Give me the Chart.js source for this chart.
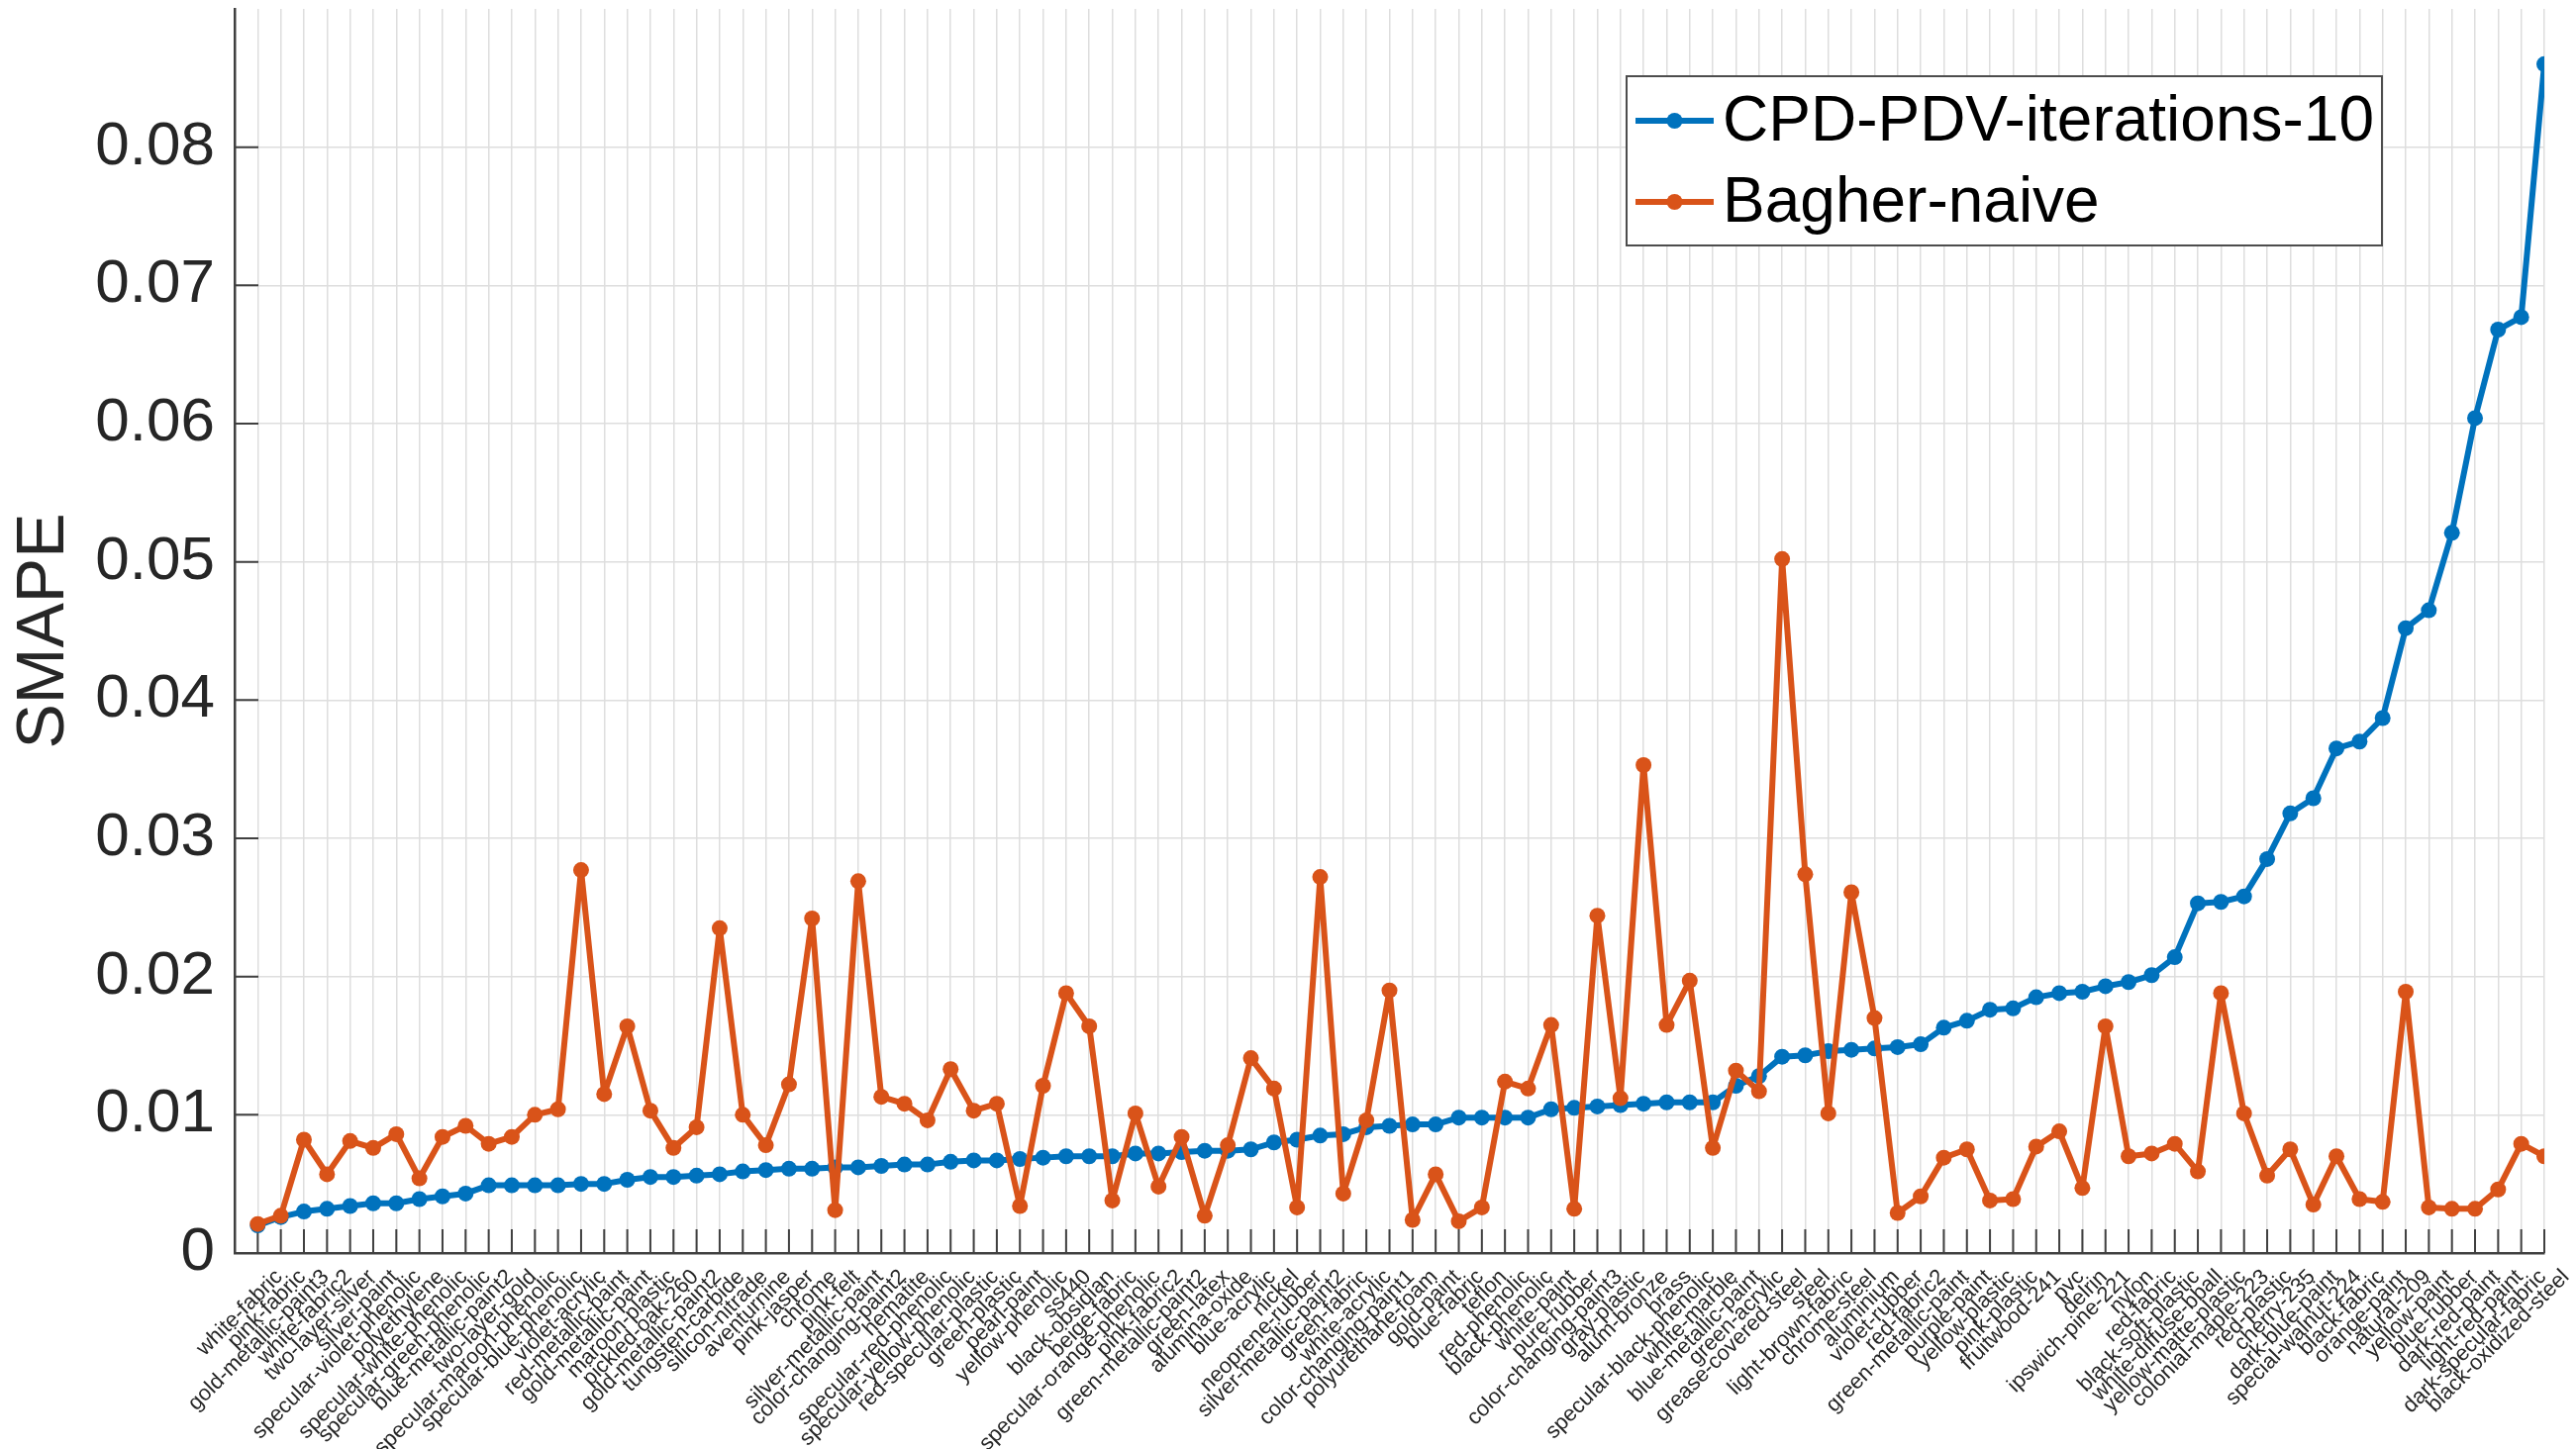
<!DOCTYPE html>
<html lang="en">
<head>
  <meta charset="UTF-8">
  <title>SMAPE per material</title>
  <style>
    html, body { margin: 0; padding: 0; background: #fff; }
    canvas { display: block; }
  </style>
</head>
<body>
  <canvas id="myChart" width="2602" height="1464"></canvas>

  <script src="https://cdn.jsdelivr.net/npm/chart.js@4.4.1/dist/chart.umd.min.js"></script>
  <script>
    const materials = [
      'white-fabric', 'pink-fabric', 'gold-metallic-paint3', 'white-fabric2', 'two-layer-silver',
      'silver-paint', 'specular-violet-phenolic', 'polyethylene', 'specular-white-phenolic', 'specular-green-phenolic',
      'blue-metallic-paint2', 'two-layer-gold', 'specular-maroon-phenolic', 'specular-blue-phenolic', 'violet-acrylic',
      'red-metallic-paint', 'gold-metallic-paint', 'maroon-plastic', 'pickled-oak-260', 'gold-metallic-paint2',
      'tungsten-carbide', 'silicon-nitrade', 'aventurnine', 'pink-jasper', 'chrome',
      'pink-felt', 'silver-metallic-paint', 'color-changing-paint2', 'hematite', 'specular-red-phenolic',
      'specular-yellow-phenolic', 'red-specular-plastic', 'green-plastic', 'pearl-paint', 'yellow-phenolic',
      'ss440', 'black-obsidian', 'beige-fabric', 'specular-orange-phenolic', 'pink-fabric2',
      'green-metallic-paint2', 'green-latex', 'alumina-oxide', 'blue-acrylic', 'nickel',
      'neoprene-rubber', 'silver-metallic-paint2', 'green-fabric', 'white-acrylic', 'color-changing-paint1',
      'polyurethane-foam', 'gold-paint', 'blue-fabric', 'teflon', 'red-phenolic',
      'black-phenolic', 'white-paint', 'pure-rubber', 'color-changing-paint3', 'gray-plastic',
      'alum-bronze', 'brass', 'specular-black-phenolic', 'white-marble', 'blue-metallic-paint',
      'green-acrylic', 'grease-covered-steel', 'steel', 'light-brown-fabric', 'chrome-steel',
      'aluminium', 'violet-rubber', 'red-fabric2', 'green-metallic-paint', 'purple-paint',
      'yellow-plastic', 'pink-plastic', 'fruitwood-241', 'pvc', 'delrin',
      'ipswich-pine-221', 'nylon', 'red-fabric', 'black-soft-plastic', 'white-diffuse-bball',
      'yellow-matte-plastic', 'colonial-maple-223', 'red-plastic', 'cherry-235', 'dark-blue-paint',
      'special-walnut-224', 'black-fabric', 'orange-paint', 'natural-209', 'yellow-paint',
      'blue-rubber', 'dark-red-paint', 'light-red-paint', 'dark-specular-fabric', 'black-oxidized-steel'
    ]

    const cpdValues = [
      0.0020, 0.0026, 0.0030, 0.0032, 0.0034, 0.0036, 0.0036, 0.0039, 0.0041, 0.0043,
      0.0049, 0.0049, 0.0049, 0.0049, 0.0050, 0.0050, 0.0053, 0.0055, 0.0055, 0.0056,
      0.0057, 0.0059, 0.0060, 0.0061, 0.0061, 0.0062, 0.0062, 0.0063, 0.0064, 0.0064,
      0.0066, 0.0067, 0.0067, 0.0068, 0.0069, 0.0070, 0.0070, 0.0070, 0.0072, 0.0072,
      0.0073, 0.0074, 0.0074, 0.0075, 0.0080, 0.0082, 0.0085, 0.0086, 0.0091, 0.0092,
      0.0093, 0.0093, 0.0098, 0.0098, 0.0098, 0.0098, 0.0104, 0.0105, 0.0106, 0.0107,
      0.0108, 0.0109, 0.0109, 0.0109, 0.0121, 0.0128, 0.0142, 0.0143, 0.0146, 0.0147,
      0.0148, 0.0149, 0.0151, 0.0163, 0.0168, 0.0176, 0.0177, 0.0185, 0.0188, 0.0189,
      0.0193, 0.0196, 0.0201, 0.0214, 0.0253, 0.0254, 0.0258, 0.0285, 0.0318, 0.0329,
      0.0365, 0.0370, 0.0387, 0.0452, 0.0465, 0.0521, 0.0604, 0.0668, 0.0677, 0.0860
    ]

    const bagherValues = [
      0.0021, 0.0027, 0.0082, 0.0057, 0.0081, 0.0076, 0.0086, 0.0054, 0.0084, 0.0092,
      0.0079, 0.0084, 0.0100, 0.0104, 0.0277, 0.0115, 0.0164, 0.0103, 0.0076, 0.0091,
      0.0235, 0.0100, 0.0078, 0.0122, 0.0242, 0.0031, 0.0269, 0.0113, 0.0108, 0.0096,
      0.0133, 0.0103, 0.0108, 0.0034, 0.0121, 0.0188, 0.0164, 0.0038, 0.0101, 0.0048,
      0.0084, 0.0027, 0.0078, 0.0141, 0.0119, 0.0033, 0.0272, 0.0043, 0.0096, 0.0190,
      0.0024, 0.0057, 0.0023, 0.0033, 0.0124, 0.0119, 0.0165, 0.0032, 0.0244, 0.0112,
      0.0353, 0.0165, 0.0197, 0.0076, 0.0132, 0.0117, 0.0502, 0.0274, 0.0101, 0.0261,
      0.0170, 0.0029, 0.0041, 0.0069, 0.0075, 0.0038, 0.0039, 0.0077, 0.0088, 0.0047,
      0.0164, 0.0070, 0.0072, 0.0079, 0.0059, 0.0188, 0.0101, 0.0056, 0.0075, 0.0035,
      0.0070, 0.0039, 0.0037, 0.0189, 0.0033, 0.0032, 0.0032, 0.0046, 0.0079, 0.0070
    ]

    const seriesNames = ['CPD-PDV-iterations-10', 'Bagher-naive']
    const seriesColors = ['#0072BD', '#D95319']
    const yTickLabels = ['0', '0.01', '0.02', '0.03', '0.04', '0.05', '0.06', '0.07', '0.08']

    const axisColor = '#404040'
    const textColor = '#262626'
    const gridColor = '#dedede'
    const fontFamily = '"Liberation Sans", Arial, Helvetica, sans-serif'

    const toPoints = values => values.map((v, i) => ({ x: i + 1, y: v }))

    // MATLAB style: tick marks pointing into the plot
    const inwardTicks = {
      id: 'inwardTicks',
      beforeDatasetsDraw(chart) {
        const { ctx, chartArea, scales } = chart
        ctx.save()
        ctx.strokeStyle = axisColor
        ctx.lineWidth = 2
        ctx.beginPath()
        for (let i = 0; i <= materials.length; i++) {
          const x = scales.x.getPixelForValue(i)
          ctx.moveTo(x, chartArea.bottom)
          ctx.lineTo(x, chartArea.bottom - 24)
        }
        yTickLabels.forEach((_, i) => {
          const y = scales.y.getPixelForValue(i * 0.01)
          ctx.moveTo(chartArea.left, y)
          ctx.lineTo(chartArea.left + 24, y)
        })
        ctx.stroke()
        ctx.restore()
      }
    }

    // rotated material names under the x axis
    const slantedLabels = {
      id: 'slantedLabels',
      afterDraw(chart) {
        const { ctx, chartArea, scales } = chart
        ctx.save()
        ctx.fillStyle = textColor
        ctx.font = '22px ' + fontFamily
        ctx.textAlign = 'right'
        ctx.textBaseline = 'top'
        materials.forEach((name, i) => {
          const x = scales.x.getPixelForValue(i + 1)
          ctx.save()
          ctx.translate(x + 14, chartArea.bottom + 13)
          ctx.rotate(-Math.PI / 4)
          ctx.fillText(name, 0, 0)
          ctx.restore()
        })
        ctx.restore()
      }
    }

    // legend box drawn inside the plot, top right
    const boxLegend = {
      id: 'boxLegend',
      afterDraw(chart) {
        const { ctx } = chart
        const left = 1643, top = 77, right = 2406, bottom = 248
        ctx.save()
        ctx.fillStyle = '#fff'
        ctx.fillRect(left, top, right - left, bottom - top)
        ctx.strokeStyle = '#4d4d4d'
        ctx.lineWidth = 2
        ctx.strokeRect(left, top, right - left, bottom - top)
        const rows = [122, 204]
        seriesNames.forEach((name, i) => {
          const y = rows[i]
          ctx.strokeStyle = seriesColors[i]
          ctx.lineWidth = 6
          ctx.beginPath()
          ctx.moveTo(1652, y)
          ctx.lineTo(1731, y)
          ctx.stroke()
          ctx.fillStyle = seriesColors[i]
          ctx.beginPath()
          ctx.arc(1691.5, y, 8, 0, Math.PI * 2)
          ctx.fill()
          ctx.fillStyle = '#000'
          ctx.font = '64px ' + fontFamily
          ctx.textBaseline = 'middle'
          ctx.textAlign = 'left'
          ctx.fillText(name, 1740, y + 2)
        })
        ctx.restore()
      }
    }

    const ctx = document.getElementById('myChart')
    const myChart = new Chart(ctx, {
      type: 'line',
      data: {
        datasets: [{
          label: seriesNames[0],
          data: toPoints(cpdValues),
          borderColor: seriesColors[0],
          backgroundColor: seriesColors[0],
          borderWidth: 6,
          borderJoinStyle: 'round',
          borderCapStyle: 'round',
          pointRadius: 8,
          pointBorderWidth: 0,
          order: 2
        }, {
          label: seriesNames[1],
          data: toPoints(bagherValues),
          borderColor: seriesColors[1],
          backgroundColor: seriesColors[1],
          borderWidth: 6,
          borderJoinStyle: 'round',
          borderCapStyle: 'round',
          pointRadius: 8,
          pointBorderWidth: 0,
          order: 1
        }]
      },
      options: {
        responsive: false,
        animation: false,
        devicePixelRatio: 1,
        layout: { padding: { top: 9, right: 32, left: 0, bottom: 0 } },
        plugins: {
          legend: { display: false },
          tooltip: { enabled: false }
        },
        scales: {
          x: {
            type: 'linear',
            min: 0,
            max: materials.length,
            afterFit: scale => {
              scale.height = 198
              scale.paddingLeft = 0
              scale.paddingRight = 0
            },
            afterBuildTicks: scale => {
              scale.ticks = materials.map((_, i) => ({ value: i })).concat([{ value: materials.length }])
            },
            ticks: { display: false, autoSkip: false },
            grid: { color: gridColor, lineWidth: 1.5, drawTicks: false },
            border: { display: true, color: axisColor, width: 2.5 }
          },
          y: {
            min: 0,
            max: 0.09,
            afterFit: scale => {
              scale.width = 237
              scale.paddingTop = 0
              scale.paddingBottom = 0
            },
            afterBuildTicks: scale => {
              scale.ticks = yTickLabels.map((_, i) => ({ value: i * 0.01 }))
            },
            ticks: {
              padding: 20,
              color: textColor,
              font: { family: fontFamily, size: 62 },
              callback: (value, index) => yTickLabels[index]
            },
            grid: { color: gridColor, lineWidth: 1.5, drawTicks: false },
            border: { display: true, color: axisColor, width: 2.5 },
            title: {
              display: true,
              text: 'SMAPE',
              color: textColor,
              font: { family: fontFamily, size: 68 },
              padding: { top: 4, bottom: 0 }
            }
          }
        }
      },
      plugins: [inwardTicks, slantedLabels, boxLegend]
    })
  </script>
</body>
</html>
